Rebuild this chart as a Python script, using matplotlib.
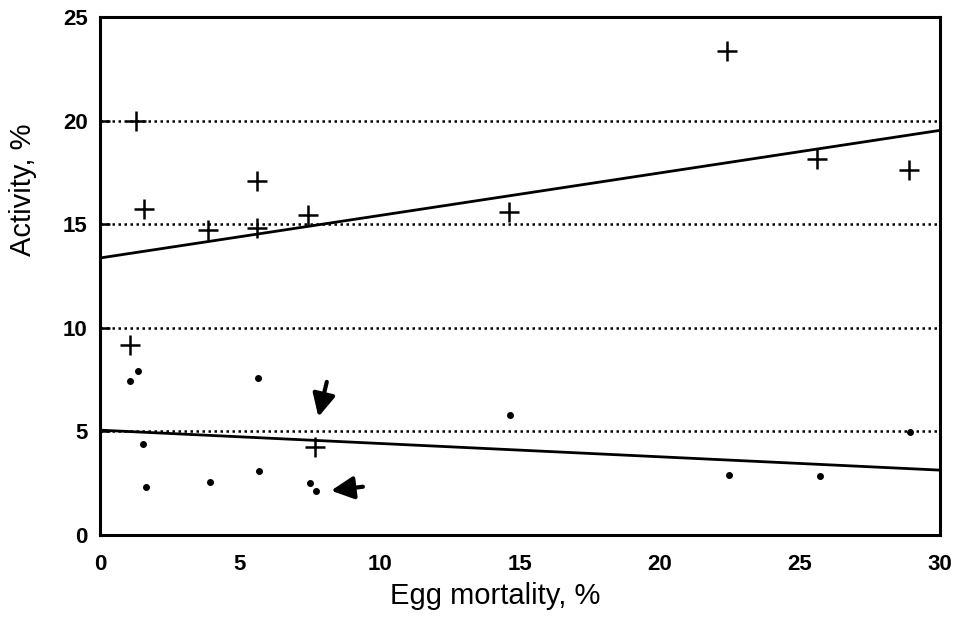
import matplotlib
matplotlib.use("Agg")
import matplotlib.pyplot as plt
import numpy as np

plt.rcParams['font.family'] = ['Liberation Sans', 'DejaVu Sans']

# Data
plus_x = [1.30, 1.57, 3.87, 5.62, 5.60, 7.44, 14.6, 22.4, 25.6, 28.9, 1.07, 7.67]
plus_y = [20.0, 15.75, 14.71, 17.07, 14.82, 15.46, 15.59, 23.35, 18.16, 17.63, 9.16, 4.26]

dot_x = [1.08, 1.35, 5.66, 1.55, 1.63, 3.92, 5.68, 7.49, 7.72, 14.65, 22.47, 25.7, 28.92]
dot_y = [7.41, 7.92, 7.57, 4.37, 2.30, 2.54, 3.09, 2.52, 2.14, 5.79, 2.89, 2.86, 4.98]

# regression lines: (intercept, slope)
upper_fit = (13.37, 0.2053)
lower_fit = (5.06, -0.0643)

# arrows: (tail_x, tail_y, head_x, head_y)
arrows = [(8.10, 7.39, 7.80, 5.70), (9.39, 2.33, 8.25, 2.14)]

x_ticks = [0, 5, 10, 15, 20, 25, 30]
y_ticks = [0, 5, 10, 15, 20, 25]
x_label = "Egg mortality, %"
y_label = "Activity, %"

fig = plt.figure(figsize=(9.58, 6.23), dpi=100)
ax = fig.add_axes([100/958, 1-535/623, 840/958, 518/623])

ax.set_xlim(0, 30)
ax.set_ylim(0, 25)

ax.yaxis.grid(True, linestyle=(0, (1, 1.4)), color='black', linewidth=1.8)
ax.set_axisbelow(True)

xs = np.array([0, 30])
ax.plot(xs, upper_fit[0] + upper_fit[1]*xs, color='black', lw=2.0, zorder=3)
ax.plot(xs, lower_fit[0] + lower_fit[1]*xs, color='black', lw=2.0, zorder=3)

ax.plot(plus_x, plus_y, linestyle='none', marker='+', markersize=14,
        markeredgewidth=1.8, color='black', zorder=4)
ax.plot(dot_x, dot_y, linestyle='none', marker='o', markersize=4.0,
        color='black', zorder=4)

for tx, ty, hx, hy in arrows:
    ax.annotate('', xy=(hx, hy), xytext=(tx, ty),
                arrowprops=dict(arrowstyle='-|>', color='black', lw=3.0,
                                mutation_scale=34, shrinkA=0, shrinkB=0))

ax.set_xticks(x_ticks)
ax.set_yticks(y_ticks)
ax.tick_params(axis='x', length=0, pad=14, labelsize=16)
ax.tick_params(axis='y', direction='in', length=7, width=1.8, pad=9, labelsize=16)
for lab in ax.get_xticklabels() + ax.get_yticklabels():
    lab.set_fontweight('bold')

for s in ax.spines.values():
    s.set_linewidth(2.2)

ax.set_xlabel(x_label, fontsize=21)
ax.set_ylabel(y_label, fontsize=21)
ax.xaxis.label.set_verticalalignment('center')
ax.yaxis.label.set_verticalalignment('center')
ax.xaxis.set_label_coords(0.470, -0.118)
ax.yaxis.set_label_coords(-0.092, 0.667)

fig.savefig("out.png", dpi=100)
